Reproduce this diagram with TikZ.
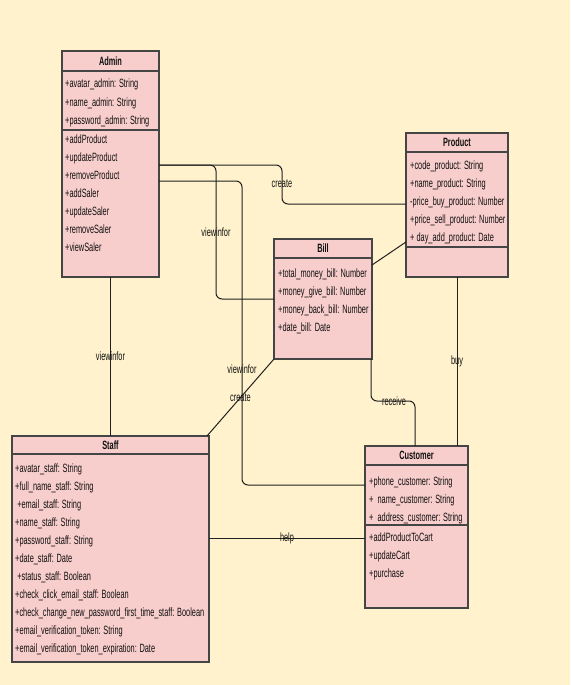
\documentclass[tikz,border=0pt]{standalone}
\usepackage{fontspec}
\setmainfont{Liberation Sans}[FakeStretch=0.615]
\usetikzlibrary{positioning}
\definecolor{paper}{HTML}{FFF2CC}
\definecolor{classfill}{HTML}{F8CECC}
\definecolor{classline}{HTML}{454545}
\definecolor{wire}{HTML}{202020}
\definecolor{ink}{HTML}{101010}

\begin{document}
\begin{tikzpicture}[x=1pt,y=-1pt,
  box/.style={draw=classline,fill=classfill,line width=1.3pt,inner sep=0pt,outer sep=0pt,anchor=north west,font=\fontsize{12}{14}\selectfont\bfseries,text=ink},
  mem/.style={anchor=base west,inner sep=0pt,font=\fontsize{12}{14}\selectfont,text=ink},
  rel/.style={draw=wire,line width=1pt,rounded corners=6pt},
  lab/.style={inner sep=0pt,font=\fontsize{12}{14}\selectfont,text=ink}]
\fill[paper] (0,0) rectangle (570,685);
\useasboundingbox (0,0) rectangle (570,685);

% Admin
\node[box,minimum width=97pt,minimum height=20pt] (admT) at (62,51) {Admin};
\node[box,minimum width=97pt,minimum height=59pt,below=0pt of admT] (admA) {};
\node[box,minimum width=97pt,minimum height=147pt,below=0pt of admA] (admM) {};
\foreach \txt [count=\i from 0] in {+avatar\_admin: String,+name\_admin: String,+password\_admin: String}
  \node[mem] (adma\i) at (65,88+18*\i) {\txt};
\foreach \txt [count=\i from 0] in {+addProduct,+updateProduct,+removeProduct,+addSaler,+updateSaler,+removeSaler,+viewSaler}
  \node[mem] (admm\i) at (65,143.5+18*\i) {\txt};

% Product
\node[box,minimum width=102pt,minimum height=19pt] (prdT) at (406,133) {Product};
\node[box,minimum width=102pt,minimum height=95pt,below=0pt of prdT] (prdA) {};
\node[box,minimum width=102pt,minimum height=30pt,below=0pt of prdA] (prdM) {};
\foreach \txt [count=\i from 0] in {+code\_product: String,+name\_product: String,-price\_buy\_product: Number,+price\_sell\_product: Number,+ day\_add\_product: Date}
  \node[mem] (prda\i) at (410,169+18*\i) {\txt};

% Bill
\node[box,minimum width=98pt,minimum height=19pt] (billT) at (274,239) {Bill};
\node[box,minimum width=98pt,minimum height=101pt,below=0pt of billT] (billA) {};
\foreach \txt [count=\i from 0] in {+total\_money\_bill: Number,+money\_give\_bill: Number,+money\_back\_bill: Number,+date\_bill: Date}
  \node[mem] (billa\i) at (278,277+18*\i) {\txt};

% Customer
\node[box,minimum width=103pt,minimum height=19pt] (custT) at (365,446) {Customer};
\node[box,minimum width=103pt,minimum height=60pt,below=0pt of custT] (custA) {};
\node[box,minimum width=103pt,minimum height=83pt,below=0pt of custA] (custM) {};
\foreach \txt [count=\i from 0] in {+phone\_customer: String,+\ \ name\_customer: String,+\ \ address\_customer: String}
  \node[mem] (custa\i) at (369,485+18*\i) {\txt};
\foreach \txt [count=\i from 0] in {+addProductToCart,+updateCart,+purchase}
  \node[mem] (custm\i) at (369,541+18*\i) {\txt};

% Staff
\node[box,minimum width=197pt,minimum height=18pt] (stfT) at (12,436) {Staff};
\node[box,minimum width=197pt,minimum height=208pt,below=0pt of stfT] (stfA) {};
\foreach \txt [count=\i from 0] in {+avatar\_staff: String,+full\_name\_staff: String,\ +email\_staff: String,+name\_staff: String,+password\_staff: String,+date\_staff: Date,\ +status\_staff: Boolean,+check\_click\_email\_staff: Boolean,+check\_change\_new\_password\_first\_time\_staff: Boolean,+email\_verification\_token: String,+email\_verification\_token\_expiration: Date}
  \node[mem] (stfa\i) at (15,472+18*\i) {\txt};

% relations
\coordinate (admOutA) at ([yshift=-35pt]admM.north east);
\coordinate (admOutB) at ([yshift=-51pt]admM.north east);
\coordinate (hlp) at ([yshift=-13pt]custM.north west);
\node[lab] (lcreate) at (282,184) {create};
\node[lab] (lviewB) at (216,232) {viewinfor};
\node[lab] (lviewC) at (242,369) {viewinfor};
\node[lab] (lrecv) at (394,401) {receive};
\draw[rel] (admOutA) -| (lcreate.center) |- ([yshift=-52pt]prdA.north west);
\draw[rel] (admOutA) -| (lviewB.center) |- ([yshift=-41pt]billA.north west);
\draw[rel] (admOutB) -| (lviewC.center) |- ([yshift=-20pt]custA.north west);
\draw[rel] (admM.south) -- (admM.south |- stfT.north) node[lab,midway] (lviewS) {viewinfor};
\draw[rel] ([xshift=-2pt]stfT.north east) -- (billA.south west) node[lab,midway] (lcreateS) {create};
\draw[rel] ([yshift=-7pt]billA.north east) -- ([yshift=-90pt]prdA.north west);
\draw[rel] (prdM.south) -- (prdM.south |- custT.north) node[lab,midway] (lbuy) {buy};
\draw[rel] ([xshift=-1pt]billA.south east) |- (lrecv.center) -| ([xshift=-1.5pt]custT.north);
\draw[rel] (hlp -| stfA.east) -- (hlp) node[lab,midway] (lhelp) {help};
\end{tikzpicture}
\end{document}
